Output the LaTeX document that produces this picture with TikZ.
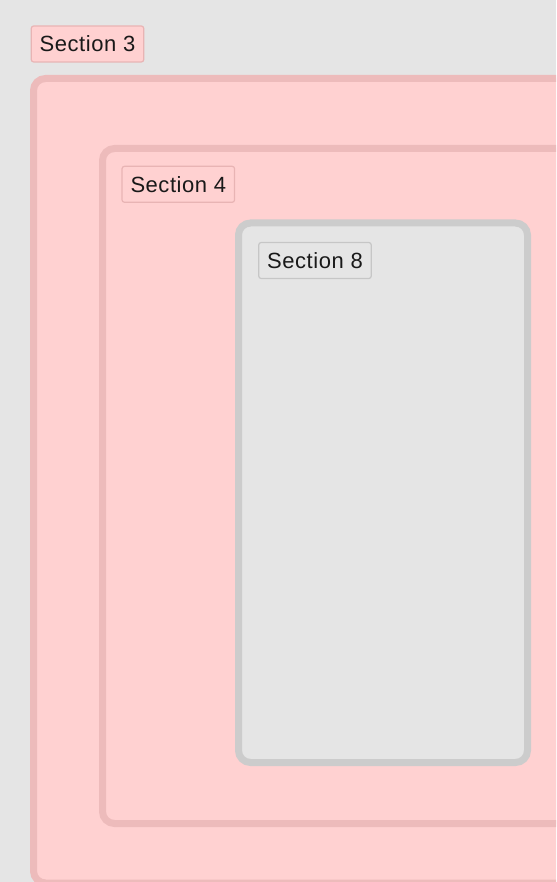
\documentclass[tikz,border=0pt]{standalone}
\usepackage{fontspec}
\setmainfont{Liberation Sans}[LetterSpace=2.5]
\usepackage{tikz}

\definecolor{bgGray}{HTML}{E5E5E5}
\definecolor{pinkFill}{HTML}{FFD1D1}
\definecolor{pinkLine}{HTML}{EDBBBB}
\definecolor{grayLine}{HTML}{CCCCCC}
\definecolor{lblPink}{HTML}{E8B4B4}
\definecolor{lblGray}{HTML}{C6C6C6}

\tikzset{
  secbox/.style={line width=7pt, rounded corners=12pt},
  seclabel/.style={rounded corners=2.5pt, line width=1.2pt, inner xsep=8.5pt,
    minimum height=36pt, text height=16pt, text depth=0pt,
    font=\fontsize{22}{26}\selectfont, text=black!90},
}

\begin{document}
\begin{tikzpicture}[x=1pt, y=-1pt]
          \clip (0,0) rectangle (556,882);
          \fill [bgGray] (0,0) rectangle (556,882);
          % section 3
          \draw [secbox, fill=pinkFill, draw=pinkLine] (33.5,78.5) rectangle (640,883);
          \node [seclabel, fill=pinkFill, draw=lblPink] (sec3) at (87.5,44) {Section 3};
          % section 4
          \draw [secbox, fill=pinkFill, draw=pinkLine] (102.5,148.5) rectangle (640,823.5);
          \node [seclabel, fill=pinkFill, draw=lblPink] (sec4) at (178.3,184.3) {Section 4};
          % section 8
          \draw [secbox, fill=bgGray, draw=grayLine] (238.5,223) rectangle (527.5,762.5);
          \node [seclabel, fill=bgGray, draw=lblGray] (sec8) at (315,260.5) {Section 8};
        \end{tikzpicture}
\end{document}
